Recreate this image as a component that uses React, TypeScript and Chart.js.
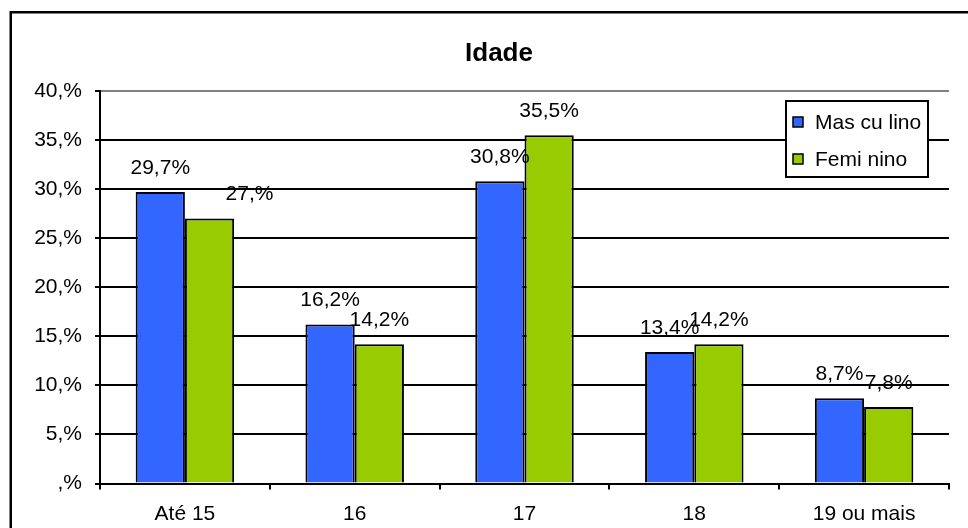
import React, { useEffect, useRef } from "react";
import { Chart, registerables } from "chart.js";

Chart.register(...registerables);

const categories = ["Até 15", "16", "17", "18", "19 ou mais"];
const seriesNames = ["Mas cu lino", "Femi nino"];
const masculino = [29.7, 16.2, 30.8, 13.4, 8.7];
const feminino = [27.0, 14.2, 35.5, 14.2, 7.8];
const seriesColors = ["#3366FF", "#99CC00"];
const yTickValues = [0, 5, 10, 15, 20, 25, 30, 35, 40];
const titleText = "Idade";
// horizontal nudge of individual data labels (px), as seen in the reference
const labelNudge = [
  [0, 0, 0, 0, 0],
  [40, 0, 0, 0, 0],
];

const FONT = "Arial, 'Liberation Sans', sans-serif";

function fmt(v: number): string {
  const [i, d] = v.toFixed(1).split(".");
  return (i === "0" ? "" : i) + "," + (d === "0" ? "" : d) + "%";
}

const framePlugin = {
  id: "frame",
  beforeDraw(chart: any) {
    const ctx = chart.ctx;
    ctx.save();
    ctx.strokeStyle = "#000";
    ctx.lineWidth = 2.5;
    ctx.beginPath();
    ctx.moveTo(10.75, chart.height + 5);
    ctx.lineTo(10.75, 12.25);
    ctx.lineTo(chart.width + 5, 12.25);
    ctx.stroke();
    ctx.fillStyle = "#000";
    ctx.font = `bold 26px ${FONT}`;
    ctx.textAlign = "center";
    ctx.textBaseline = "middle";
    ctx.fillText(titleText, 499, 54);
    ctx.restore();
  },
};

const labelPlugin = {
  id: "barLabels",
  afterDatasetsDraw(chart: any) {
    const ctx = chart.ctx;
    ctx.save();
    ctx.fillStyle = "#000";
    ctx.font = `21px ${FONT}`;
    ctx.textAlign = "center";
    ctx.textBaseline = "middle";
    chart.data.datasets.forEach((ds: any, di: number) => {
      const meta = chart.getDatasetMeta(di);
      meta.data.forEach((el: any, i: number) => {
        ctx.fillText(fmt(ds.data[i]), el.x + (labelNudge[di]?.[i] ?? 0), el.y - 24);
      });
    });
    ctx.restore();
  },
};

const legendPlugin = {
  id: "boxLegend",
  afterDraw(chart: any) {
    const ctx = chart.ctx;
    const ca = chart.chartArea;
    const bx = ca.right - 163;
    const by = ca.top + 10;
    const bw = 142;
    const bh = 76;
    ctx.save();
    ctx.fillStyle = "#fff";
    ctx.fillRect(bx, by, bw, bh);
    ctx.strokeStyle = "#000";
    ctx.lineWidth = 2;
    ctx.strokeRect(bx, by, bw, bh);
    ctx.font = `21px ${FONT}`;
    ctx.textAlign = "left";
    ctx.textBaseline = "middle";
    seriesNames.forEach((name, i) => {
      const cy = by + 21 + i * 37;
      ctx.fillStyle = seriesColors[i];
      ctx.fillRect(bx + 7, cy - 5, 10, 10);
      ctx.lineWidth = 1.5;
      ctx.strokeRect(bx + 7, cy - 5, 10, 10);
      ctx.fillStyle = "#000";
      ctx.fillText(name, bx + 29, cy + 1);
    });
    ctx.restore();
  },
};

export default function App() {
  const ref = useRef<HTMLCanvasElement | null>(null);
  useEffect(() => {
    if (!ref.current) return;
    Chart.defaults.font.family = FONT;
    Chart.defaults.color = "#000";
    const chart = new Chart(ref.current, {
      type: "bar",
      data: {
        labels: categories,
        datasets: [
          {
            label: seriesNames[0],
            data: masculino,
            backgroundColor: seriesColors[0],
            borderColor: "#000",
            borderWidth: 2,
            categoryPercentage: 0.58,
            barPercentage: 1.0,
          },
          {
            label: seriesNames[1],
            data: feminino,
            backgroundColor: seriesColors[1],
            borderColor: "#000",
            borderWidth: 2,
            categoryPercentage: 0.58,
            barPercentage: 1.0,
          },
        ],
      },
      options: {
        responsive: false,
        animation: false,
        layout: { padding: { top: 91, right: 19, left: 0, bottom: 0 } },
        plugins: {
          legend: { display: false },
          title: { display: false },
          tooltip: { enabled: false },
        },
        scales: {
          x: {
            afterFit: (s: any) => {
              s.height = 44.5;
            },
            grid: {
              offset: true,
              drawOnChartArea: true,
              color: (c: any) => (c.index === categories.length ? "#808080" : "rgba(0,0,0,0)"),
              tickColor: "#000",
              tickLength: 6,
              lineWidth: 2,
            },
            border: { display: true, color: "#000", width: 2 },
            ticks: { font: { size: 21 }, color: "#000", padding: 12 },
          },
          y: {
            min: 0,
            max: 40,
            afterFit: (s: any) => {
              s.width = 100;
            },
            afterBuildTicks: (s: any) => {
              s.ticks = yTickValues.map((v) => ({ value: v }));
            },
            grid: {
              color: (c: any) => (c.tick && c.tick.value === 40 ? "#808080" : "#000"),
              tickColor: "#000",
              tickLength: 5,
              lineWidth: 2,
            },
            border: { display: true, color: "#000", width: 2 },
            ticks: {
              font: { size: 21 },
              color: "#000",
              padding: 13,
              callback: (v: any) => fmt(Number(v)),
            },
          },
        },
      },
      plugins: [framePlugin, labelPlugin, legendPlugin],
    });
    return () => chart.destroy();
  }, []);
  return (
    <canvas
      ref={ref}
      width={968}
      height={528}
      style={{ position: "absolute", left: 0, top: 0, width: 968, height: 528 }}
    />
  );
}
